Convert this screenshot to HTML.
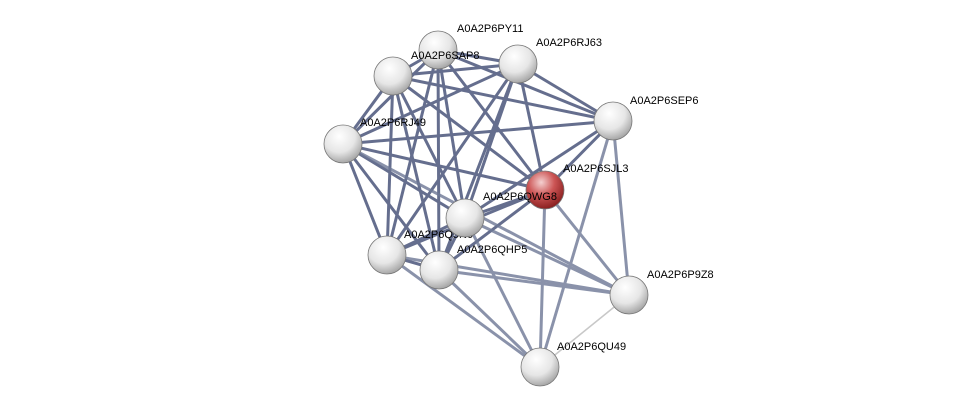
<!DOCTYPE html>
<html><head><meta charset="utf-8"><style>
html,body{margin:0;padding:0;background:#fff;width:976px;height:413px;overflow:hidden}
text{font-family:"Liberation Sans",sans-serif;font-size:11px;fill:#000}
</style></head><body>
<svg width="976" height="413" viewBox="0 0 976 413">
<defs>
<radialGradient id="g" cx="40%" cy="30%" r="70%">
<stop offset="0" stop-color="#ffffff"/><stop offset="0.6" stop-color="#e6e6e6"/><stop offset="1" stop-color="#a8a8a8"/></radialGradient>
<radialGradient id="r" cx="40%" cy="30%" r="70%">
<stop offset="0" stop-color="#f4d0d0"/><stop offset="0.5" stop-color="#cc5555"/><stop offset="1" stop-color="#8a2020"/></radialGradient>
</defs>
<g stroke-linecap="round">
<g stroke="#3f4b72" stroke-width="3" opacity="0.8">
<line x1="393" y1="76" x2="438" y2="50"/><line x1="393" y1="76" x2="518" y2="64"/><line x1="393" y1="76" x2="613" y2="121"/><line x1="393" y1="76" x2="343" y2="144"/><line x1="393" y1="76" x2="545" y2="190"/><line x1="393" y1="76" x2="465" y2="218"/><line x1="393" y1="76" x2="387" y2="255"/><line x1="393" y1="76" x2="439" y2="270"/>
<line x1="438" y1="50" x2="518" y2="64"/><line x1="438" y1="50" x2="613" y2="121"/><line x1="438" y1="50" x2="343" y2="144"/><line x1="438" y1="50" x2="545" y2="190"/><line x1="438" y1="50" x2="465" y2="218"/><line x1="438" y1="50" x2="387" y2="255"/><line x1="438" y1="50" x2="439" y2="270"/>
<line x1="518" y1="64" x2="613" y2="121"/><line x1="518" y1="64" x2="343" y2="144"/><line x1="518" y1="64" x2="545" y2="190"/><line x1="518" y1="64" x2="465" y2="218"/><line x1="518" y1="64" x2="387" y2="255"/><line x1="518" y1="64" x2="439" y2="270"/>
<line x1="613" y1="121" x2="343" y2="144"/><line x1="613" y1="121" x2="545" y2="190"/><line x1="613" y1="121" x2="465" y2="218"/>
<line x1="343" y1="144" x2="545" y2="190"/><line x1="343" y1="144" x2="465" y2="218"/><line x1="343" y1="144" x2="387" y2="255"/><line x1="343" y1="144" x2="439" y2="270"/>
<line x1="545" y1="190" x2="465" y2="218"/><line x1="545" y1="190" x2="439" y2="270"/><line x1="545" y1="190" x2="387" y2="255"/>
<line x1="465" y1="218" x2="387" y2="255"/><line x1="465" y1="218" x2="439" y2="270"/><line x1="387" y1="255" x2="439" y2="270"/>
</g>
<g stroke="#6d7896" stroke-width="3" opacity="0.8">
<line x1="613" y1="121" x2="540" y2="367"/><line x1="613" y1="121" x2="629" y2="295"/><line x1="343" y1="144" x2="629" y2="295"/>
<line x1="545" y1="190" x2="629" y2="295"/><line x1="545" y1="190" x2="540" y2="367"/><line x1="465" y1="218" x2="540" y2="367"/><line x1="465" y1="218" x2="629" y2="295"/>
<line x1="387" y1="255" x2="629" y2="295"/><line x1="387" y1="255" x2="540" y2="367"/><line x1="439" y1="270" x2="629" y2="295"/><line x1="439" y1="270" x2="540" y2="367"/>
</g>
<line x1="629" y1="295" x2="540" y2="367" stroke="#c8c8c8" stroke-width="1.5"/>
</g>
<g stroke="#777" stroke-width="0.8">
<circle cx="438" cy="50" r="19" fill="url(#g)"/>
<circle cx="393" cy="76" r="19" fill="url(#g)"/>
<circle cx="518" cy="64" r="19" fill="url(#g)"/>
<circle cx="613" cy="121" r="19" fill="url(#g)"/>
<circle cx="343" cy="144" r="19" fill="url(#g)"/>
<circle cx="545" cy="190" r="19" fill="url(#r)"/>
<circle cx="387" cy="255" r="19" fill="url(#g)"/>
<circle cx="439" cy="270" r="19" fill="url(#g)"/>
<circle cx="629" cy="295" r="19" fill="url(#g)"/>
<circle cx="540" cy="367" r="19" fill="url(#g)"/>
</g>
<text x="404" y="238">A0A2P6Q5N0</text>
<circle cx="465" cy="218" r="19" fill="url(#g)" stroke="#777" stroke-width="0.8"/>
<text x="457" y="32">A0A2P6PY11</text>
<text x="411" y="59">A0A2P6SAP8</text>
<text x="536" y="46">A0A2P6RJ63</text>
<text x="630" y="104">A0A2P6SEP6</text>
<text x="360" y="126">A0A2P6RJ49</text>
<text x="563" y="172">A0A2P6SJL3</text>
<text x="483" y="200">A0A2P6QWG8</text>
<text x="457" y="253">A0A2P6QHP5</text>
<text x="647" y="278">A0A2P6P9Z8</text>
<text x="557" y="350">A0A2P6QU49</text>
</svg>
</body></html>
